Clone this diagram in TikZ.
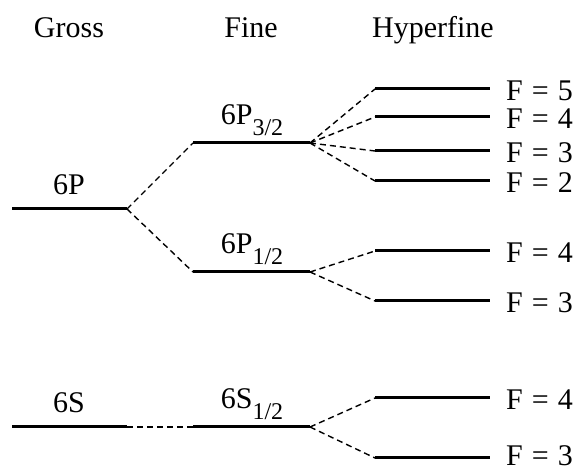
\documentclass[tikz,border=0pt]{standalone}
\usepackage{fontspec}
\setmainfont{Liberation Serif}
\begin{document}
\begin{tikzpicture}[x=1pt,y=-1pt,
  level/.style={line width=3pt},
  link/.style={line width=1.4pt, dash pattern=on 6pt off 4pt},
  lab/.style={font=\fontsize{30}{32}\selectfont, inner sep=0pt, anchor=base},
  flab/.style={font=\fontsize{30}{32}\selectfont, inner sep=0pt, anchor=base west}]
\useasboundingbox (0,0) rectangle (582,470);
\newcommand{\sbs}[1]{\raisebox{-11pt}{\fontsize{24}{26}\selectfont #1}}
\newcommand{\fl}[1]{F\hspace{0.3em}=\hspace{0.3em}#1}
% headers
\node[lab] (hg) at (69,38) {Gross};
\node[lab] (hf) at (251,38) {Fine};
\node[lab] (hh) at (433,38) {Hyperfine};
% gross levels
\coordinate (gPl) at (12,209); \coordinate (gPr) at (127,209);
\coordinate (gSl) at (12,427); \coordinate (gSr) at (127,427);
% fine levels
\coordinate (f3l) at (193,143); \coordinate (f3r) at (310,143);
\coordinate (f1l) at (193,272); \coordinate (f1r) at (310,272);
\coordinate (fSl) at (193,427); \coordinate (fSr) at (310,427);
% hyperfine levels
\foreach \n/\y in {a5/89,a4/117,a3/151,a2/181,b4/251,b3/301,c4/398,c3/458}{
  \coordinate (\n l) at (375,\y); \coordinate (\n r) at (490,\y);
}
\foreach \n in {gP,gS,f3,f1,fS,a5,a4,a3,a2,b4,b3,c4,c3}{
  \draw[level] (\n l) -- (\n r);
}
% labels
\node[lab] (l6P) at (69,195) {6P};
\node[lab] (l6S) at (69,413) {6S};
\node[lab] (l63) at (252,125) {6P\sbs{3/2}};
\node[lab] (l61) at (252,254) {6P\sbs{1/2}};
\node[lab] (l6S1) at (252,409) {6S\sbs{1/2}};
\node[flab] (Fa5) at (506,101) {\fl{5}};
\node[flab] (Fa4) at (506,129) {\fl{4}};
\node[flab] (Fa3) at (506,163) {\fl{3}};
\node[flab] (Fa2) at (506,193) {\fl{2}};
\node[flab] (Fb4) at (506,263) {\fl{4}};
\node[flab] (Fb3) at (506,313) {\fl{3}};
\node[flab] (Fc4) at (506,410) {\fl{4}};
\node[flab] (Fc3) at (506,466) {\fl{3}};
% connectors
\draw[link] (gPr) -- (f3l);
\draw[link] (gPr) -- (f1l);
\draw[link] (gSr) -- (fSl);
\foreach \n in {a5,a4,a3,a2}{\draw[link] (f3r) -- (\n l);}
\foreach \n in {b4,b3}{\draw[link] (f1r) -- (\n l);}
\foreach \n in {c4,c3}{\draw[link] (fSr) -- (\n l);}
\end{tikzpicture}
\end{document}
